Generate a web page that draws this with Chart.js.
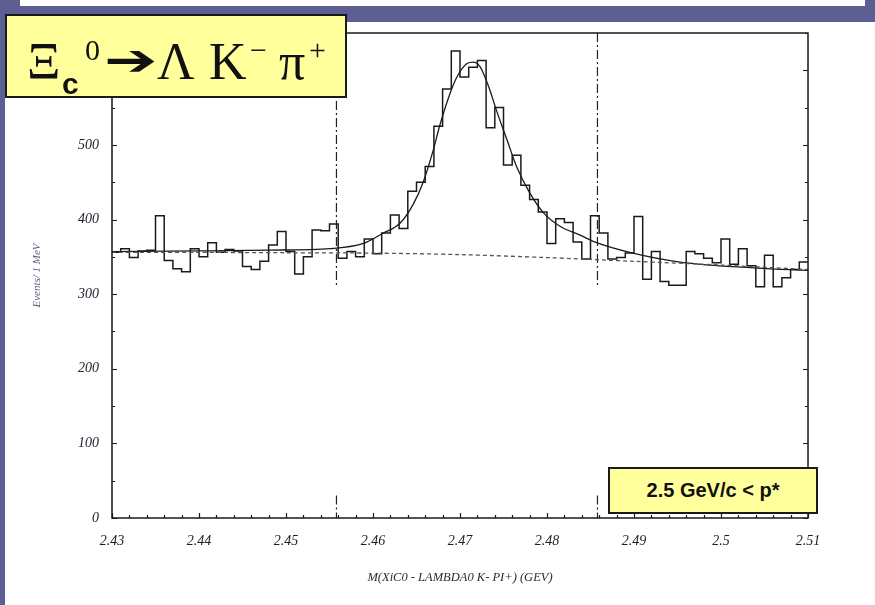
<!DOCTYPE html>
<html>
<head>
<meta charset="utf-8">
<script src="https://cdn.jsdelivr.net/npm/chart.js@4.4.1/dist/chart.umd.min.js"></script>
<style>
  html, body { margin: 0; padding: 0; }
  body { width: 875px; height: 605px; position: relative; overflow: hidden; background: #5d5e92; }
  #topbar { position: absolute; left: 20px; top: 0; width: 845px; height: 6px; background: #fff; }
  #sheet { position: absolute; left: 5px; top: 22px; width: 870px; height: 583px; background: #fff; }
  #c { position: absolute; left: 0; top: 0; }
  .box { position: absolute; background: #ffff9c; border: 2px solid #1a1a1a; box-sizing: border-box; }
  #title { left: 5px; top: 14px; width: 342px; height: 84px; }
  #title span { position: absolute; line-height: 1; color: #111; white-space: nowrap; }
  .big { font: 52px "Liberation Serif", serif; top: 20px; }
  .sup { font: 30px "Liberation Serif", serif; top: 19px; }
  #arrow { left: 97px; top: 22px; font: 44px "DejaVu Sans", sans-serif;
           transform: scaleX(1.45); transform-origin: left center; }
  #pbox { left: 608px; top: 467px; width: 210px; height: 47px;
          font: bold 20px "Liberation Sans", Arial, sans-serif; color: #111;
          display: flex; align-items: center; justify-content: center; }
</style>
</head>
<body>
<div id="topbar"></div>
<div id="sheet"></div>
<canvas id="c" width="875" height="605"></canvas>
<div class="box" id="title">
  <span class="big" style="left:20px">Ξ</span>
  <span style="left:55px;top:51px;font:bold 30px 'Liberation Sans',Arial,sans-serif">c</span>
  <span class="sup" style="left:78px">0</span>
  <span id="arrow">➔</span>
  <span class="big" style="left:150px">Λ</span>
  <span class="big" style="left:202px">K</span>
  <span class="sup" style="left:243px">−</span>
  <span class="big" style="left:272px">π</span>
  <span class="sup" style="left:302px">+</span>
</div>
<div class="box" id="pbox">2.5 GeV/c &lt; p*</div>

<script>
// histogram: 1 MeV bins starting at 2.430 GeV
const binLow = 2.430;
const binWidth = 0.001;
const counts = [
  356, 361, 349, 358, 359, 405, 345, 334, 330, 361,
  350, 369, 356, 360, 358, 337, 333, 344, 366, 384,
  357, 327, 350, 386, 385, 394, 348, 357, 350, 374,
  354, 382, 406, 388, 438, 450, 471, 525, 575, 626,
  591, 604, 613, 523, 550, 473, 486, 446, 427, 410,
  368, 401, 396, 370, 347, 405, 382, 347, 349, 355,
  404, 320, 357, 317, 312, 312, 357, 354, 348, 342,
  374, 340, 361, 338, 310, 352, 310, 322, 333, 343
];

// fit (signal + background)
const fitX = [2.430, 2.440, 2.448, 2.4551, 2.4589, 2.4612, 2.4631, 2.4646, 2.4658, 2.4669,
              2.4677, 2.4687, 2.4696, 2.4708, 2.4715, 2.4723, 2.4733, 2.4742, 2.4754, 2.4765,
              2.4780, 2.4796, 2.4815, 2.4838, 2.4857, 2.4895, 2.4953, 2.5041, 2.510];
const fitY = [357, 358, 359, 361, 368, 382, 395, 420, 451, 492,
              527, 564, 590, 609, 611, 605, 578, 546, 507, 471,
              436, 409, 391, 379, 369, 356, 343, 335, 332];

// background only (dashed)
const bkgX = [2.430, 2.440, 2.450, 2.460, 2.470, 2.480, 2.490, 2.500, 2.510];
const bkgY = [356, 356, 355.5, 355, 353, 349, 344, 339, 333];

// signal window markers
const cutX = [2.4558, 2.4858];
const cutUpper = [650, 310];
const cutLower = [30, 0];

const yTicks = [0, 100, 200, 300, 400, 500, 600];
const xTicks = [2.43, 2.44, 2.45, 2.46, 2.47, 2.48, 2.49, 2.50, 2.51];
const xTickLabels = ['2.43', '2.44', '2.45', '2.46', '2.47', '2.48', '2.49', '2.5', '2.51'];

const histPts = counts.map((c, i) => ({ x: binLow + i * binWidth, y: c }));
histPts.push({ x: binLow + counts.length * binWidth, y: counts[counts.length - 1] });

const pairs = (xs, ys) => xs.map((x, i) => ({ x, y: ys[i] }));

const cutSets = [];
cutX.forEach(x => {
  [cutUpper, cutLower].forEach(r => cutSets.push({
    data: [{ x, y: r[0] }, { x, y: r[1] }],
    borderColor: '#222', borderWidth: 1.2, borderDash: [9, 3, 2, 3],
    pointRadius: 0, showLine: true, fill: false
  }));
});

// frame + inside tick marks
const frame = {
  id: 'frame',
  afterDatasetsDraw(chart) {
    const { ctx, chartArea: a, scales: { x, y } } = chart;
    ctx.save();
    ctx.strokeStyle = '#1a1a1a';
    ctx.lineWidth = 1.2;
    for (let v = 0; v <= 650; v += 50) {
      const py = Math.round(y.getPixelForValue(v)) + 0.5;
      const len = v % 100 === 0 ? 5 : 3;
      ctx.beginPath();
      ctx.moveTo(a.left, py); ctx.lineTo(a.left + len, py);
      ctx.moveTo(a.right, py); ctx.lineTo(a.right - len, py);
      ctx.stroke();
    }
    for (let k = 0; k <= 40; k++) {
      const px = Math.round(x.getPixelForValue(2.43 + k * 0.002)) + 0.5;
      const len = k % 5 === 0 ? 5 : 3;
      ctx.beginPath();
      ctx.moveTo(px, a.bottom); ctx.lineTo(px, a.bottom - len);
      ctx.stroke();
    }
    ctx.lineWidth = 1.5;
    ctx.strokeRect(a.left, a.top, a.right - a.left, a.bottom - a.top);
    ctx.restore();
  }
};

const tickFont = { family: '"Liberation Serif", serif', style: 'italic', size: 14 };

new Chart(document.getElementById('c'), {
  type: 'scatter',
  data: {
    datasets: [
      { data: pairs(bkgX, bkgY), borderColor: '#555', borderWidth: 1.3, borderDash: [4, 3],
        pointRadius: 0, showLine: true, fill: false, tension: 0.3 },
      { data: histPts, stepped: true, borderColor: '#1a1a1a', borderWidth: 1.5,
        pointRadius: 0, showLine: true, fill: false },
      { data: pairs(fitX, fitY), borderColor: '#1a1a1a', borderWidth: 1.3,
        cubicInterpolationMode: 'monotone', pointRadius: 0, showLine: true, fill: false },
      ...cutSets
    ]
  },
  plugins: [frame],
  options: {
    responsive: false,
    animation: false,
    events: [],
    layout: { padding: { top: 33, right: 67, bottom: 8, left: 20 } },
    plugins: { legend: { display: false }, tooltip: { enabled: false } },
    scales: {
      x: {
        type: 'linear', min: 2.43, max: 2.51,
        afterFit: s => { s.height = 79; },
        afterBuildTicks: s => { s.ticks = xTicks.map(v => ({ value: v })); },
        grid: { display: false, drawTicks: false },
        border: { display: false },
        ticks: { padding: 15, color: '#1d1d2a', font: tickFont, maxRotation: 0,
                 callback: (v, i) => xTickLabels[i] },
        title: { display: true, text: 'M(XiC0 - LAMBDA0 K- PI+) (GEV)', color: '#2a2a35',
                 font: { family: '"Liberation Serif", serif', style: 'italic', size: 12.5 },
                 padding: { bottom: 12 } }
      },
      y: {
        type: 'linear', min: 0, max: 650,
        afterFit: s => { s.width = 92; },
        afterBuildTicks: s => { s.ticks = yTicks.map(v => ({ value: v })); },
        grid: { display: false, drawTicks: false },
        border: { display: false },
        ticks: { padding: 13, color: '#1d1d2a', font: tickFont },
        title: { display: true, text: 'Events/ 1 MeV', color: '#5b5b80',
                 font: { family: '"Liberation Serif", serif', style: 'italic', size: 11 },
                 padding: { top: 11 } }
      }
    }
  }
});
</script>
</body>
</html>
